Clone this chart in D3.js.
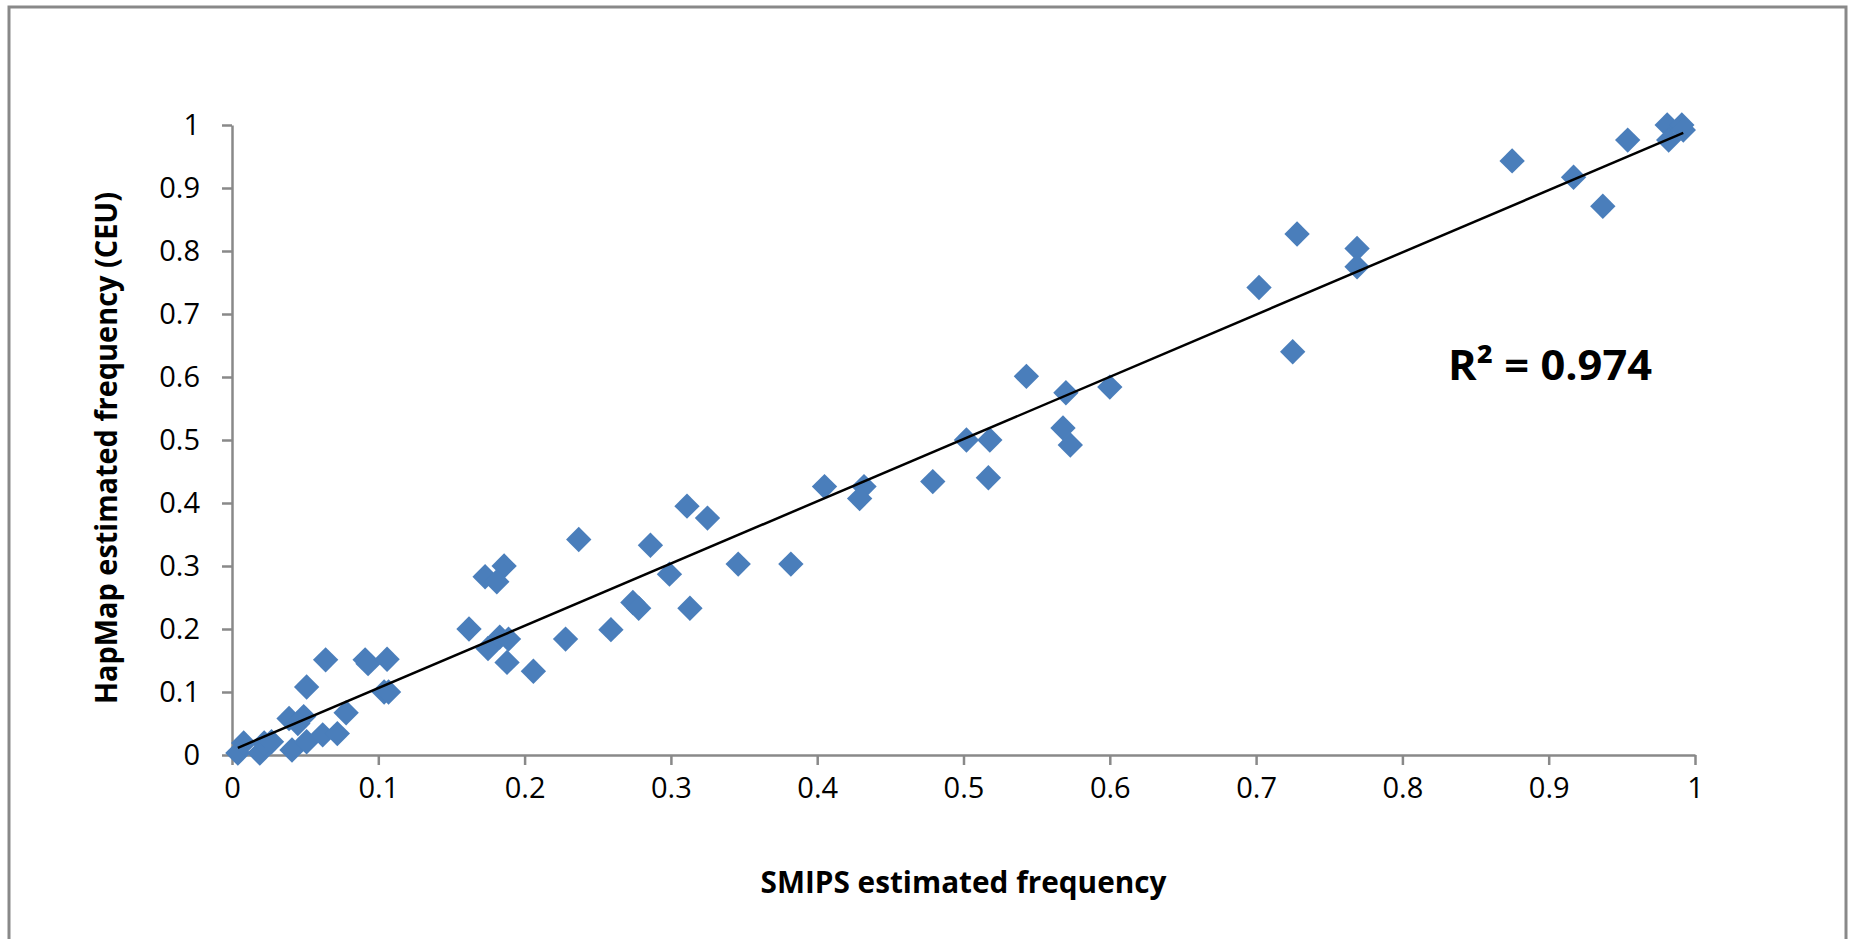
<!DOCTYPE html>
<html>
<head>
<meta charset="utf-8">
<script src="https://cdn.jsdelivr.net/npm/d3@7"></script>
<style>
  html, body { margin: 0; padding: 0; background: #fff; }
  svg { display: block; }
  text { font-family: "Open Sans", "Liberation Sans", sans-serif; fill: #000; }
</style>
</head>
<body>
<svg id="chart"></svg>
<script>
// SMIPS estimated frequency (x) vs HapMap estimated frequency (y)
const smips = [
  0.004, 0.008, 0.019, 0.022, 0.027, 0.041, 0.039, 0.049, 0.045, 0.051,
  0.051, 0.062, 0.072, 0.064, 0.078, 0.091, 0.093, 0.106, 0.104, 0.107,
  0.162, 0.173, 0.186, 0.181, 0.175, 0.183, 0.189, 0.188, 0.206, 0.228,
  0.237, 0.259, 0.274, 0.278, 0.286, 0.299, 0.311, 0.313, 0.325, 0.346,
  0.382, 0.405, 0.432, 0.429, 0.479, 0.502, 0.518, 0.517, 0.543, 0.570,
  0.568, 0.573, 0.600, 0.702, 0.728, 0.725, 0.769, 0.769, 0.875, 0.917,
  0.937, 0.954, 0.981, 0.982, 0.991, 0.992
]
const hapmap = [
  0.003, 0.019, 0.003, 0.019, 0.021, 0.008, 0.058, 0.061, 0.050, 0.021,
  0.108, 0.032, 0.034, 0.151, 0.067, 0.151, 0.145, 0.152, 0.100, 0.100,
  0.200, 0.283, 0.300, 0.275, 0.169, 0.187, 0.184, 0.147, 0.133, 0.184,
  0.342, 0.199, 0.242, 0.233, 0.333, 0.287, 0.395, 0.233, 0.376, 0.303,
  0.303, 0.426, 0.426, 0.407, 0.434, 0.500, 0.500, 0.440, 0.601, 0.575,
  0.519, 0.492, 0.584, 0.742, 0.827, 0.640, 0.804, 0.775, 0.943, 0.917,
  0.871, 0.976, 1.000, 0.976, 1.000, 0.992
]
const xTicks = [0, 0.1, 0.2, 0.3, 0.4, 0.5, 0.6, 0.7, 0.8, 0.9, 1]
const yTicks = [0, 0.1, 0.2, 0.3, 0.4, 0.5, 0.6, 0.7, 0.8, 0.9, 1]
const xTitle = 'SMIPS estimated frequency'
const yTitle = 'HapMap estimated frequency (CEU)'
const rSquaredLabel = 'R² = 0.974'

const width = 1851, height = 939
const margin = {top: 125, right: 156, bottom: 184, left: 232}
const grey = '#898989'

const svg = d3.select('#chart')
  .attr('width', width)
  .attr('height', height)

// outer chart frame (no bottom edge visible in the reference)
svg.append('rect')
  .attr('x', 9).attr('y', 7)
  .attr('width', 1837).attr('height', 960)
  .attr('fill', 'none')
  .attr('stroke', grey)
  .attr('stroke-width', 3)

const x = d3.scaleLinear()
  .domain([0, 1])
  .range([margin.left, width - margin.right])

const y = d3.scaleLinear()
  .domain([0, 1])
  .range([height - margin.bottom, margin.top])

const fmt = d => d === 0 ? '0' : d === 1 ? '1' : d3.format('.1f')(d)

// x axis
const gx = svg.append('g')
  .attr('transform', 'translate(0,' + y(0) + ')')
  .call(d3.axisBottom(x).tickValues(xTicks).tickFormat(fmt).tickSize(10).tickSizeOuter(0).tickPadding(12))
gx.select('.domain').attr('stroke', grey).attr('stroke-width', 2.5)
gx.selectAll('.tick line').attr('stroke', grey).attr('stroke-width', 2.5)
gx.selectAll('.tick text')
  .style('font-size', '29px')
  .style('font-family', '"Open Sans", sans-serif')
  .attr('fill', '#000')

// y axis
const gy = svg.append('g')
  .attr('transform', 'translate(' + x(0) + ',0)')
  .call(d3.axisLeft(y).tickValues(yTicks).tickFormat(fmt).tickSize(10).tickSizeOuter(0).tickPadding(22))
gy.select('.domain').attr('stroke', grey).attr('stroke-width', 2.5)
gy.selectAll('.tick line').attr('stroke', grey).attr('stroke-width', 2.5)
gy.selectAll('.tick text')
  .style('font-size', '29px')
  .style('font-family', '"Open Sans", sans-serif')
  .attr('fill', '#000')

// axis titles
svg.append('text')
  .attr('x', (x(0) + x(1)) / 2)
  .attr('y', 893)
  .attr('text-anchor', 'middle')
  .attr('textLength', 406)
  .attr('lengthAdjust', 'spacingAndGlyphs')
  .style('font-size', '30px')
  .style('font-weight', 'bold')
  .text(xTitle)

svg.append('text')
  .attr('transform', 'translate(117,' + ((y(0) + y(1)) / 2 + 8) + ') rotate(-90)')
  .attr('text-anchor', 'middle')
  .attr('textLength', 512)
  .attr('lengthAdjust', 'spacingAndGlyphs')
  .style('font-size', '30px')
  .style('font-weight', 'bold')
  .text(yTitle)

// markers
const points = smips.map((d, i) => ({x: d, y: hapmap[i]}))
const diamond = d3.symbol().type(d3.symbolDiamond2).size(410)

svg.append('g')
  .attr('fill', '#4a7ebb')
  .selectAll('path')
  .data(points)
  .join('path')
    .attr('d', diamond)
    .attr('transform', d => 'translate(' + x(d.x) + ',' + y(d.y) + ')')

// linear trend line, least squares over the points
const mx = d3.mean(smips), my = d3.mean(hapmap)
const slope = d3.sum(points, d => (d.x - mx) * (d.y - my)) / d3.sum(points, d => (d.x - mx) ** 2)
const intercept = my - slope * mx
const [x0, x1] = d3.extent(smips)

svg.append('line')
  .attr('x1', x(x0)).attr('y1', y(intercept + slope * x0))
  .attr('x2', x(x1)).attr('y2', y(intercept + slope * x1))
  .attr('stroke', '#000')
  .attr('stroke-width', 2.5)

svg.append('text')
  .attr('x', 1448)
  .attr('y', 380)
  .attr('textLength', 204)
  .attr('lengthAdjust', 'spacingAndGlyphs')
  .style('font-size', '42px')
  .style('font-weight', 'bold')
  .text(rSquaredLabel)
</script>
</body>
</html>
